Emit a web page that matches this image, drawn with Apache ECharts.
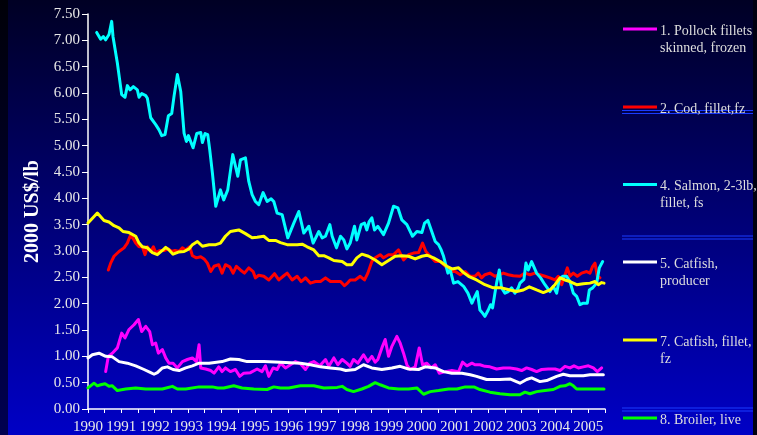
<!DOCTYPE html>
<html>
<head>
<meta charset="utf-8">
<script src="https://cdn.jsdelivr.net/npm/echarts@6/dist/echarts.min.js"></script>
<style>
  html, body { margin: 0; padding: 0; background: #000010; }
  #chart { width: 757px; height: 435px; }
</style>
</head>
<body>
<div id="chart"></div>
<script>
// Real prices, 2000 US$/lb — each point is [year, price]
const pollock = [
  [1990.53,0.71],[1990.61,1.00],[1990.73,1.06],[1990.88,1.16],[1991.01,1.44],[1991.11,1.35],[1991.23,1.51],
  [1991.38,1.60],[1991.51,1.70],[1991.61,1.47],[1991.73,1.57],[1991.85,1.47],[1991.93,1.22],[1992.03,1.25],
  [1992.11,1.06],[1992.23,1.13],[1992.33,0.97],[1992.43,0.87],[1992.55,0.87],[1992.68,0.78],[1992.83,0.90],
  [1992.98,0.94],[1993.13,0.97],[1993.25,0.90],[1993.33,1.22],[1993.38,0.78],[1993.53,0.76],[1993.68,0.73],
  [1993.78,0.68],[1993.92,0.80],[1994.02,0.71],[1994.12,0.78],[1994.27,0.71],[1994.42,0.75],[1994.55,0.62],
  [1994.67,0.68],[1994.87,0.69],[1995.07,0.76],[1995.22,0.71],[1995.32,0.82],[1995.42,0.62],[1995.55,0.78],
  [1995.67,0.75],[1995.77,0.87],[1995.92,0.78],[1996.07,0.84],[1996.22,0.90],[1996.37,0.86],[1996.52,0.75],
  [1996.65,0.87],[1996.77,0.90],[1996.95,0.82],[1997.12,0.94],[1997.22,0.81],[1997.37,0.97],[1997.49,0.84],
  [1997.62,0.94],[1997.76,0.87],[1997.86,0.81],[1997.96,0.94],[1998.09,0.87],[1998.26,1.03],[1998.39,0.90],
  [1998.51,1.00],[1998.61,0.89],[1998.69,0.94],[1998.81,1.16],[1998.91,1.32],[1999.01,1.00],[1999.11,1.19],
  [1999.26,1.38],[1999.36,1.25],[1999.46,1.06],[1999.56,0.84],[1999.66,0.75],[1999.81,0.80],[1999.93,1.16],
  [2000.03,0.84],[2000.16,0.87],[2000.29,0.78],[2000.41,0.84],[2000.53,0.68],[2000.71,0.71],[2000.91,0.73],
  [2001.11,0.71],[2001.23,0.89],[2001.36,0.82],[2001.51,0.87],[2001.60,0.84],[2001.75,0.84],[2001.90,0.81],
  [2002.05,0.80],[2002.25,0.76],[2002.45,0.78],[2002.65,0.78],[2002.85,0.76],[2003.00,0.73],[2003.15,0.78],
  [2003.30,0.75],[2003.45,0.71],[2003.60,0.75],[2003.80,0.76],[2004.00,0.76],[2004.15,0.73],[2004.30,0.81],
  [2004.45,0.78],[2004.57,0.82],[2004.70,0.78],[2004.85,0.80],[2005.00,0.82],[2005.15,0.78],[2005.27,0.71],
  [2005.40,0.78]
];
const cod = [
  [1990.61,2.64],[1990.68,2.77],[1990.78,2.90],[1990.93,2.99],[1991.08,3.06],[1991.18,3.15],[1991.26,3.28],
  [1991.33,3.26],[1991.43,3.15],[1991.53,3.08],[1991.63,3.08],[1991.71,2.93],[1991.78,3.08],[1991.88,2.99],
  [1991.96,3.08],[1992.03,2.97],[1992.15,3.01],[1992.28,3.01],[1992.41,3.04],[1992.51,2.99],[1992.61,3.01],
  [1992.73,2.99],[1992.83,3.06],[1992.93,3.02],[1993.05,3.08],[1993.13,2.91],[1993.25,2.87],[1993.38,2.89],
  [1993.48,2.85],[1993.58,2.77],[1993.68,2.61],[1993.78,2.71],[1993.92,2.74],[1994.02,2.58],[1994.12,2.74],
  [1994.25,2.70],[1994.35,2.58],[1994.45,2.71],[1994.57,2.64],[1994.69,2.58],[1994.82,2.68],[1994.95,2.61],
  [1995.02,2.49],[1995.12,2.54],[1995.27,2.52],[1995.42,2.45],[1995.59,2.57],[1995.72,2.45],[1995.87,2.53],
  [1995.97,2.58],[1996.12,2.45],[1996.27,2.52],[1996.39,2.42],[1996.52,2.49],[1996.67,2.39],[1996.82,2.42],
  [1996.97,2.42],[1997.12,2.49],[1997.27,2.42],[1997.42,2.42],[1997.57,2.42],[1997.69,2.34],[1997.76,2.38],
  [1997.86,2.45],[1998.01,2.45],[1998.16,2.52],[1998.29,2.45],[1998.39,2.58],[1998.51,2.80],[1998.61,2.87],
  [1998.76,2.93],[1998.86,2.87],[1999.01,2.93],[1999.16,2.93],[1999.31,3.02],[1999.46,2.83],[1999.61,2.93],
  [1999.76,2.96],[1999.91,2.97],[2000.03,3.15],[2000.13,2.99],[2000.26,2.90],[2000.41,2.80],[2000.56,2.80],
  [2000.71,2.71],[2000.86,2.61],[2001.01,2.61],[2001.16,2.55],[2001.31,2.61],[2001.46,2.52],[2001.60,2.52],
  [2001.70,2.58],[2001.80,2.49],[2001.90,2.55],[2002.05,2.58],[2002.20,2.52],[2002.35,2.55],[2002.45,2.58],
  [2002.60,2.55],[2002.75,2.53],[2002.95,2.52],[2003.10,2.58],[2003.25,2.55],[2003.40,2.58],[2003.55,2.55],
  [2003.70,2.52],[2003.85,2.49],[2004.00,2.45],[2004.10,2.52],[2004.20,2.36],[2004.27,2.49],[2004.37,2.68],
  [2004.45,2.52],[2004.55,2.58],[2004.67,2.52],[2004.80,2.58],[2004.95,2.61],[2005.05,2.58],[2005.13,2.71],
  [2005.20,2.77],[2005.27,2.52],[2005.35,2.49]
];
const salmon = [
  [1990.26,7.15],[1990.38,7.02],[1990.46,7.07],[1990.53,7.01],[1990.63,7.11],[1990.71,7.36],[1990.75,7.07],
  [1990.88,6.57],[1991.01,5.97],[1991.11,5.92],[1991.18,6.14],[1991.26,6.06],[1991.36,6.12],[1991.48,6.06],
  [1991.53,5.92],[1991.61,5.99],[1991.73,5.95],[1991.78,5.90],[1991.88,5.53],[1992.03,5.40],[1992.13,5.30],
  [1992.21,5.19],[1992.31,5.21],[1992.41,5.57],[1992.51,5.61],[1992.58,5.94],[1992.68,6.35],[1992.78,6.03],
  [1992.88,5.24],[1992.95,5.08],[1993.01,5.19],[1993.06,5.21],[1993.15,4.96],[1993.26,5.23],[1993.38,5.25],
  [1993.43,5.06],[1993.51,5.23],[1993.59,5.21],[1993.65,4.92],[1993.73,4.48],[1993.83,3.85],[1993.97,4.16],
  [1994.07,3.97],[1994.19,4.16],[1994.34,4.83],[1994.49,4.42],[1994.57,4.73],[1994.72,4.77],[1994.82,4.32],
  [1994.92,4.07],[1995.02,3.94],[1995.12,3.88],[1995.25,4.11],[1995.37,3.94],[1995.49,3.99],[1995.57,3.94],
  [1995.67,3.72],[1995.82,3.69],[1995.99,3.25],[1996.17,3.53],[1996.32,3.75],[1996.47,3.34],[1996.62,3.47],
  [1996.75,3.15],[1996.92,3.37],[1997.02,3.25],[1997.12,3.28],[1997.25,3.50],[1997.32,3.28],[1997.45,3.06],
  [1997.57,3.28],[1997.67,3.21],[1997.76,3.04],[1997.86,3.15],[1997.99,3.47],[1998.06,3.21],[1998.19,3.50],
  [1998.29,3.53],[1998.36,3.40],[1998.43,3.56],[1998.51,3.63],[1998.59,3.40],[1998.69,3.47],[1998.86,3.31],
  [1999.01,3.53],[1999.16,3.85],[1999.29,3.82],[1999.41,3.59],[1999.56,3.50],[1999.73,3.28],[1999.86,3.37],
  [2000.01,3.35],[2000.09,3.53],[2000.19,3.58],[2000.29,3.40],[2000.41,3.18],[2000.51,3.12],[2000.59,3.02],
  [2000.66,2.90],[2000.79,2.58],[2000.86,2.64],[2000.96,2.39],[2001.09,2.42],[2001.26,2.33],[2001.39,2.20],
  [2001.51,2.01],[2001.60,2.14],[2001.67,2.23],[2001.75,1.88],[2001.83,1.82],[2001.90,1.76],[2002.00,1.88],
  [2002.07,1.98],[2002.13,1.92],[2002.20,2.20],[2002.25,2.39],[2002.33,2.64],[2002.40,2.30],[2002.50,2.20],
  [2002.60,2.23],[2002.70,2.30],[2002.80,2.20],[2002.90,2.30],[2002.95,2.39],[2003.07,2.46],[2003.13,2.77],
  [2003.20,2.64],[2003.30,2.80],[2003.45,2.58],[2003.57,2.49],[2003.70,2.36],[2003.85,2.23],[2003.95,2.33],
  [2004.05,2.20],[2004.13,2.46],[2004.23,2.52],[2004.35,2.52],[2004.45,2.42],[2004.55,2.20],[2004.65,2.14],
  [2004.75,1.98],[2004.85,2.01],[2004.97,2.01],[2005.03,2.26],[2005.13,2.30],[2005.25,2.39],[2005.33,2.68],
  [2005.43,2.80]
];
const catfishProducer = [
  [1990.00,0.97],[1990.13,1.03],[1990.33,1.06],[1990.53,1.00],[1990.73,0.99],[1990.93,0.90],[1991.18,0.87],
  [1991.43,0.82],[1991.68,0.75],[1991.88,0.69],[1991.98,0.66],[1992.08,0.69],[1992.23,0.78],[1992.38,0.80],
  [1992.55,0.75],[1992.73,0.73],[1992.93,0.78],[1993.13,0.82],[1993.33,0.87],[1993.63,0.87],[1994.02,0.90],
  [1994.27,0.95],[1994.52,0.94],[1994.77,0.90],[1995.27,0.90],[1995.77,0.89],[1996.37,0.87],[1996.67,0.84],
  [1996.97,0.80],[1997.27,0.78],[1997.57,0.76],[1997.73,0.73],[1998.01,0.75],[1998.26,0.84],[1998.51,0.78],
  [1998.81,0.75],[1999.11,0.78],[1999.36,0.81],[1999.61,0.76],[1999.91,0.75],[2000.11,0.80],[2000.41,0.78],
  [2000.66,0.71],[2000.91,0.68],[2001.21,0.68],[2001.46,0.65],[2001.65,0.62],[2001.95,0.56],[2002.35,0.56],
  [2002.65,0.57],[2002.95,0.49],[2003.15,0.56],[2003.30,0.59],[2003.55,0.52],[2003.75,0.54],[2004.05,0.62],
  [2004.25,0.66],[2004.45,0.63],[2004.85,0.63],[2005.05,0.65],[2005.45,0.65]
];
const catfishFillet = [
  [1990.00,3.53],[1990.28,3.72],[1990.48,3.58],[1990.63,3.55],[1990.78,3.48],[1990.93,3.44],[1991.05,3.37],
  [1991.23,3.35],[1991.43,3.28],[1991.53,3.15],[1991.63,3.08],[1991.78,3.06],[1991.93,2.97],[1992.08,2.93],
  [1992.23,3.01],[1992.33,3.07],[1992.43,3.02],[1992.55,2.94],[1992.71,2.98],[1992.88,2.99],[1993.03,3.04],
  [1993.13,3.12],[1993.28,3.18],[1993.43,3.09],[1993.63,3.12],[1993.83,3.12],[1993.97,3.15],[1994.12,3.28],
  [1994.27,3.37],[1994.52,3.40],[1994.72,3.33],[1994.92,3.25],[1995.07,3.26],[1995.27,3.28],[1995.42,3.20],
  [1995.62,3.20],[1995.77,3.16],[1995.97,3.12],[1996.27,3.12],[1996.42,3.13],[1996.57,3.08],[1996.77,3.02],
  [1996.92,2.91],[1997.07,2.91],[1997.22,2.87],[1997.37,2.82],[1997.62,2.80],[1997.76,2.74],[1997.91,2.74],
  [1998.06,2.87],[1998.21,2.94],[1998.41,2.90],[1998.61,2.83],[1998.81,2.74],[1999.01,2.82],[1999.21,2.90],
  [1999.41,2.91],[1999.61,2.90],[1999.81,2.85],[2000.01,2.90],[2000.16,2.92],[2000.36,2.87],[2000.56,2.80],
  [2000.76,2.71],[2000.91,2.66],[2001.11,2.68],[2001.26,2.59],[2001.41,2.52],[2001.65,2.45],[2001.90,2.36],
  [2002.15,2.30],[2002.40,2.30],[2002.65,2.26],[2002.85,2.23],[2003.05,2.26],[2003.23,2.32],[2003.45,2.26],
  [2003.65,2.21],[2003.85,2.26],[2004.00,2.36],[2004.15,2.49],[2004.30,2.45],[2004.45,2.42],[2004.65,2.36],
  [2004.85,2.38],[2005.05,2.39],[2005.20,2.42],[2005.30,2.36],[2005.40,2.40],[2005.47,2.39]
];
const broiler = [
  [1990.00,0.40],[1990.18,0.49],[1990.28,0.44],[1990.38,0.46],[1990.51,0.48],[1990.63,0.43],[1990.73,0.44],
  [1990.88,0.35],[1991.13,0.38],[1991.43,0.40],[1991.73,0.38],[1992.23,0.38],[1992.53,0.43],[1992.68,0.38],
  [1992.93,0.38],[1993.33,0.42],[1993.73,0.42],[1993.89,0.40],[1994.07,0.40],[1994.37,0.44],[1994.62,0.40],
  [1994.97,0.38],[1995.37,0.37],[1995.57,0.42],[1995.77,0.40],[1996.02,0.40],[1996.37,0.44],[1996.77,0.44],
  [1997.07,0.40],[1997.47,0.41],[1997.62,0.43],[1997.76,0.37],[1997.96,0.33],[1998.21,0.38],[1998.41,0.43],
  [1998.61,0.50],[1998.76,0.46],[1999.01,0.40],[1999.31,0.38],[1999.61,0.38],[1999.86,0.40],[2000.06,0.28],
  [2000.26,0.33],[2000.51,0.35],[2000.81,0.38],[2001.06,0.38],[2001.31,0.42],[2001.57,0.42],[2001.75,0.37],
  [2002.05,0.32],[2002.35,0.29],[2002.65,0.27],[2002.95,0.27],[2003.10,0.32],[2003.25,0.29],[2003.45,0.33],
  [2003.70,0.35],[2003.95,0.37],[2004.15,0.43],[2004.30,0.44],[2004.45,0.48],[2004.55,0.44],[2004.65,0.38],
  [2004.85,0.38],[2005.15,0.38],[2005.47,0.38]
];

const seriesNames = [
  '1. Pollock fillets\nskinned, frozen',
  '2. Cod, fillet,fz',
  '4. Salmon, 2-3lb,\nfillet, fs',
  '5. Catfish,\nproducer',
  '7. Catfish, fillet,\nfz',
  '8. Broiler, live'
];
const seriesData = [pollock, cod, salmon, catfishProducer, catfishFillet, broiler];
const seriesColors = ['#ff00ff', '#ff0000', '#00ffff', '#ffffff', '#ffff00', '#00ff00'];
const yAxisTitle = '2000 US$/lb';

const SERIF = '"Liberation Serif", "Times New Roman", serif';
const W = 757, H = 435;

// Legend layout on the right: sample line followed by the label
const legendLineY = [29, 107, 184.5, 262, 340, 418];
const legendGraphics = [];
seriesNames.forEach((name, i) => {
  const y = legendLineY[i];
  legendGraphics.push({
    type: 'line', silent: true, z: 10,
    shape: { x1: 623, y1: y, x2: 657, y2: y },
    style: { stroke: seriesColors[i], lineWidth: 3 }
  });
  legendGraphics.push({
    type: 'text', silent: true, z: 10,
    x: 660, y: y - 6.5,
    style: {
      text: name, fill: '#dedede', font: '14px ' + SERIF,
      lineHeight: 17, verticalAlign: 'top', align: 'left'
    }
  });
});

// Thin blue rules across the legend panel
const ruleY = [110.5, 113.5, 236, 239, 408, 411];
const ruleGraphics = ruleY.map(y => ({
  type: 'line', silent: true, z: 9,
  shape: { x1: 622, y1: y, x2: 753, y2: y },
  style: { stroke: '#1a3cff', lineWidth: 1 }
}));

// Dark borders at the left and right edges of the slide
const edgeGraphics = [
  {
    type: 'rect', silent: true, z: 1,
    shape: { x: 0, y: 0, width: 8, height: H },
    style: { fill: new echarts.graphic.LinearGradient(0, 0, 0, 1, [
      { offset: 0, color: '#000008' }, { offset: 1, color: '#000050' }
    ]) }
  },
  {
    type: 'rect', silent: true, z: 1,
    shape: { x: 753, y: 0, width: 4, height: H },
    style: { fill: '#000010' }
  }
];

const chart = echarts.init(document.getElementById('chart'), null, { renderer: 'canvas' });

chart.setOption({
  animation: false,
  backgroundColor: new echarts.graphic.LinearGradient(0, 0, 0, 1, [
    { offset: 0, color: '#000024' },
    { offset: 1, color: '#0000c6' }
  ]),
  grid: { left: 88, right: 152, top: 14, bottom: 26, containLabel: false },
  xAxis: {
    type: 'value',
    min: 1990, max: 2005.5, interval: 0.5,
    axisLine: { show: true, onZero: false, lineStyle: { color: '#ffffff', width: 1.5 } },
    axisTick: { show: true, inside: false, length: 4, lineStyle: { color: '#ffffff', width: 1 } },
    splitLine: { show: false },
    axisLabel: {
      color: '#e8e8e8', fontFamily: SERIF, fontSize: 15, margin: 11,
      showMinLabel: true, showMaxLabel: true,
      formatter: v => (Math.abs(v - Math.round(v)) < 1e-6 ? String(Math.round(v)) : '')
    }
  },
  yAxis: {
    type: 'value',
    min: 0, max: 7.5, interval: 0.5,
    name: yAxisTitle,
    nameLocation: 'middle',
    nameGap: 45,
    nameRotate: 90,
    nameTextStyle: { color: '#ffffff', fontFamily: SERIF, fontSize: 20, fontWeight: 'bold' },
    axisLine: { show: true, lineStyle: { color: '#ffffff', width: 1.5 } },
    axisTick: { show: true, inside: false, length: 6, lineStyle: { color: '#ffffff', width: 1 } },
    splitLine: { show: false },
    axisLabel: {
      color: '#e8e8e8', fontFamily: SERIF, fontSize: 15, margin: 8,
      formatter: v => v.toFixed(2)
    }
  },
  series: seriesData.map((data, i) => ({
    type: 'line',
    name: seriesNames[i],
    data: data,
    showSymbol: false,
    symbol: 'none',
    smooth: false,
    lineStyle: { color: seriesColors[i], width: 3, join: 'round', cap: 'round' },
    z: 2 + i
  })),
  graphic: { elements: edgeGraphics.concat(ruleGraphics, legendGraphics) }
});
</script>
</body>
</html>
